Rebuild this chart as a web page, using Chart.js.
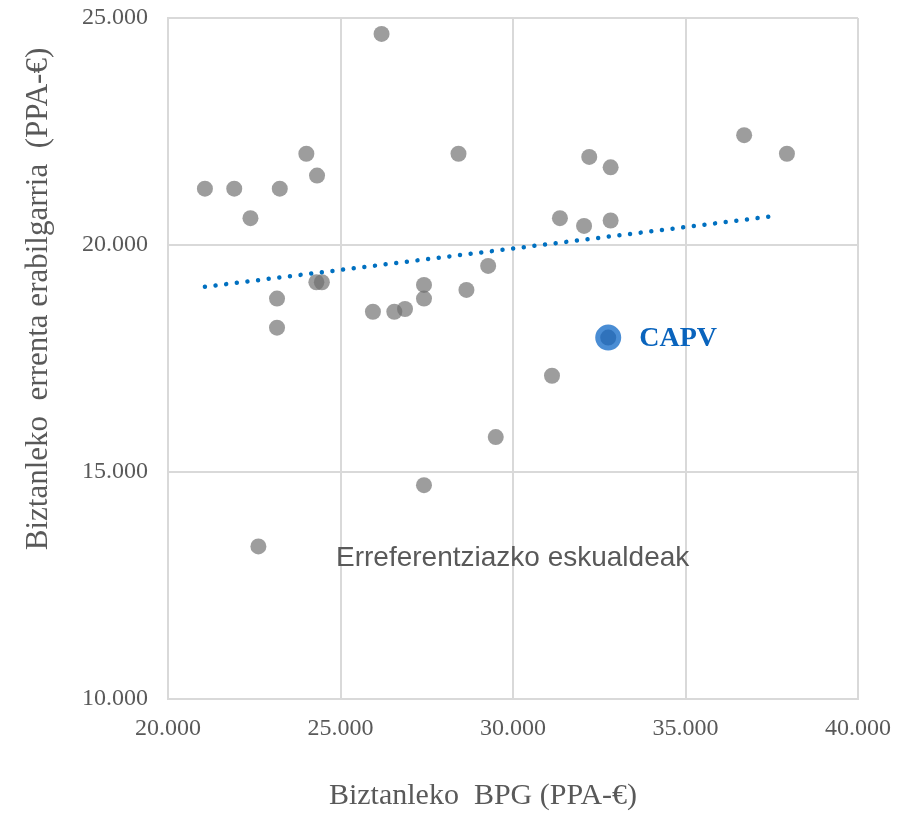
<!DOCTYPE html>
<html>
<head>
<meta charset="utf-8">
<script src="https://cdn.jsdelivr.net/npm/chart.js@4.4.1/dist/chart.umd.min.js"></script>
<style>
  html, body { margin: 0; padding: 0; background: #ffffff; }
  #wrap { width: 904px; height: 814px; position: relative; }
</style>
</head>
<body>
<div id="wrap"><canvas id="c" width="904" height="814"></canvas></div>
<script>
// ---- Data ----
const regionX = [26190, 24010, 24320, 21070, 21920, 23240, 22390, 28420, 23160, 23160,
                 24460, 24300, 25940, 26560, 26870, 27420, 27420, 28650, 29280, 29500,
                 27420, 22620, 32210, 32830, 31360, 32060, 32830, 36700, 37940, 31130];
const regionY = [24650, 22010, 21530, 21240, 21240, 21240, 20590, 22010, 18820, 18180,
                 19180, 19180, 18530, 18530, 18590, 19120, 18820, 19010, 19540, 15770,
                 14710, 13360, 21940, 21710, 20590, 20420, 20540, 22420, 22010, 17120];
const capvX = [32760];
const capvY = [17960];
const trendX = [21070, 37700];
const trendY = [19080, 20650];
const xTicks = [20000, 25000, 30000, 35000, 40000];
const yTicks = [10000, 15000, 20000, 25000];

const xTitle = 'Biztanleko  BPG (PPA-€)';
const yTitle = 'Biztanleko  errenta erabilgarria  (PPA-€)';
const capvLabel = 'CAPV';
const groupLabel = 'Erreferentziazko eskualdeak';

const toPts = (xs, ys) => xs.map((x, i) => ({ x: x, y: ys[i] }));
const fmt = v => String(v).replace(/\B(?=(\d{3})+(?!\d))/g, '.');

const textPlugin = {
  id: 'texts',
  afterDraw(chart) {
    const ctx = chart.ctx;
    const xs = chart.scales.x, ys = chart.scales.y;
    ctx.save();
    ctx.fillStyle = '#595959';
    // x title
    ctx.font = '30px "Liberation Serif", "Times New Roman", serif';
    ctx.textAlign = 'center';
    ctx.textBaseline = 'alphabetic';
    ctx.fillText(xTitle, 483, 804);
    // y title
    ctx.save();
    ctx.translate(47, 299);
    ctx.rotate(-Math.PI / 2);
    ctx.font = '31px "Liberation Serif", "Times New Roman", serif';
    ctx.fillText(yTitle, 0, 0);
    ctx.restore();
    // group label
    ctx.font = '28px "Liberation Sans", Arial, sans-serif';
    ctx.textAlign = 'left';
    ctx.textBaseline = 'alphabetic';
    ctx.fillText(groupLabel, 336, 566);
    // CAPV label
    const px = xs.getPixelForValue(capvX[0]);
    const py = ys.getPixelForValue(capvY[0]);
    ctx.fillStyle = '#0a64bd';
    ctx.font = 'bold 28px "Liberation Serif", "Times New Roman", serif';
    ctx.textBaseline = 'middle';
    ctx.fillText(capvLabel, px + 31, py + 1);
    ctx.restore();
  }
};

new Chart(document.getElementById('c'), {
  type: 'scatter',
  data: {
    datasets: [
      {
        label: capvLabel,
        data: toPts(capvX, capvY),
        pointRadius: 10.5,
        pointBorderWidth: 5,
        pointBackgroundColor: '#2f72bb',
        pointBorderColor: '#4a8dd4',
        order: 0
      },
      {
        label: 'Joera',
        type: 'line',
        data: toPts(trendX, trendY),
        showLine: true,
        borderColor: '#0070c0',
        borderWidth: 4.5,
        borderDash: [0.01, 10.7],
        borderCapStyle: 'round',
        pointRadius: 0,
        fill: false,
        order: 1
      },
      {
        label: groupLabel,
        data: toPts(regionX, regionY),
        pointRadius: 8,
        pointBorderWidth: 0,
        pointBackgroundColor: 'rgba(110,110,110,0.68)',
        pointBorderColor: 'rgba(0,0,0,0)',
        order: 2
      }
    ]
  },
  options: {
    responsive: false,
    animation: false,
    devicePixelRatio: 1,
    layout: { padding: { left: 0, top: 18, right: 46, bottom: 0 } },
    plugins: { legend: { display: false }, tooltip: { enabled: false } },
    scales: {
      x: {
        type: 'linear',
        min: 20000, max: 40000,
        afterBuildTicks: s => { s.ticks = xTicks.map(v => ({ value: v })); },
        afterFit: s => { s.height = 115; s.paddingLeft = 0; s.paddingRight = 0; },
        grid: { color: '#d9d9d9', lineWidth: 2, drawTicks: false },
        border: { color: '#d9d9d9', width: 2 },
        ticks: {
          color: '#595959',
          padding: 15,
          font: { family: '"Liberation Serif", "Times New Roman", serif', size: 24 },
          callback: v => fmt(v)
        }
      },
      y: {
        type: 'linear',
        min: 10000, max: 25000,
        afterBuildTicks: s => { s.ticks = yTicks.map(v => ({ value: v })); },
        afterFit: s => { s.width = 168; s.paddingTop = 0; s.paddingBottom = 0; },
        grid: { color: '#d9d9d9', lineWidth: 2, drawTicks: false },
        border: { color: '#d9d9d9', width: 2 },
        ticks: {
          color: '#595959',
          padding: 20,
          font: { family: '"Liberation Serif", "Times New Roman", serif', size: 24 },
          callback: v => fmt(v)
        }
      }
    }
  },
  plugins: [textPlugin]
});
</script>
</body>
</html>
